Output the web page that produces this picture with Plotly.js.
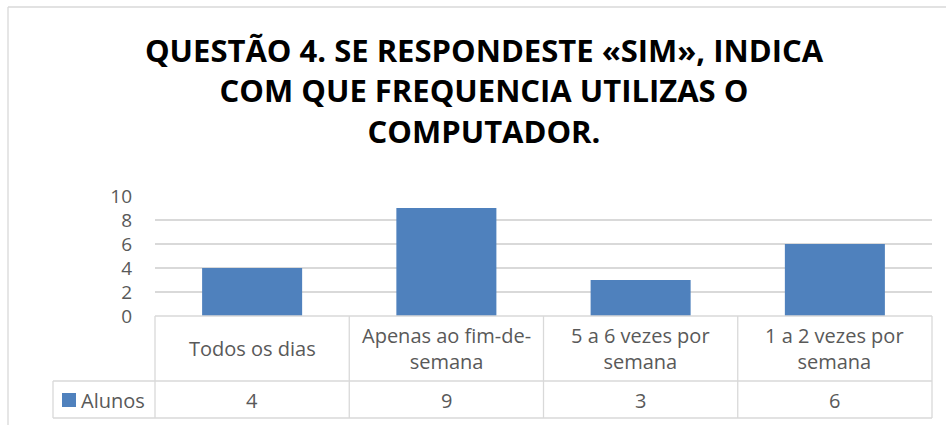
<!DOCTYPE html>
<html>
<head>
<meta charset="utf-8">
<script src="https://cdn.plot.ly/plotly-3.0.1.min.js"></script>
<style>html,body{margin:0;padding:0;background:#fff;}#chart{width:946px;height:425px;}</style>
</head>
<body>
<div id="chart"></div>
<script>
// ---- data ----
const categories = ["Todos os dias", "Apenas ao fim-de-semana", "5 a 6 vezes por semana", "1 a 2 vezes por semana"];
const categoryLabels = ["Todos os dias", "Apenas ao fim-de-<br>semana", "5 a 6 vezes por<br>semana", "1 a 2 vezes por<br>semana"];
const seriesName = "Alunos";
const alunos = [4, 9, 3, 6];
const yTicks = [0, 2, 4, 6, 8, 10];
const titleText = "QUESTÃO 4. SE RESPONDESTE «SIM», INDICA<br>COM QUE FREQUENCIA UTILIZAS O<br>COMPUTADOR.";

// ---- style ----
const W = 946, H = 425;
const M = {l: 155, r: 14, t: 196, b: 109};
const PW = W - M.l - M.r, PH = H - M.t - M.b;
const px = x => (x - M.l) / PW;          // pixel x -> paper
const py = y => (H - M.b - y) / PH;      // pixel y -> paper
const barColor = "#4F81BD";
const lineColor = "#D9D9D9";
const textColor = "#595959";
const font = "Open Sans, Noto Sans, sans-serif";
const tableFontSize = 20;

const rowMid = py(381), rowBot = py(418), legendLeft = px(53);
const shapes = [];
const line = (x0, y0, x1, y1) => shapes.push({type: "line", xref: "paper", yref: "paper", x0, y0, x1, y1, line: {color: lineColor, width: 1.3}});
// table horizontal lines
line(0, 0, 1, 0);
line(legendLeft, rowMid, 1, rowMid);
line(legendLeft, rowBot, 1, rowBot);
// table vertical lines
for (let i = 0; i <= categories.length; i++) line(i / categories.length, 0, i / categories.length, rowBot);
line(legendLeft, rowMid, legendLeft, rowBot);
// chart border (left and top)
line(px(8), py(7), px(8), py(430));
line(px(8), py(7), px(950), py(7));
// legend swatch
shapes.push({type: "rect", xref: "paper", yref: "paper", x0: px(62), x1: px(76), y0: py(393), y1: py(407), fillcolor: barColor, line: {width: 0}});

const annotations = [];
categories.forEach((c, i) => {
  annotations.push({xref: "x", yref: "paper", x: c, y: py(348), text: categoryLabels[i], showarrow: false, xanchor: "center", yanchor: "middle", font: {family: font, size: tableFontSize, color: textColor}});
  annotations.push({xref: "x", yref: "paper", x: c, y: py(400), text: String(alunos[i]), showarrow: false, xanchor: "center", yanchor: "middle", font: {family: font, size: tableFontSize, color: textColor}});
});
annotations.push({xref: "paper", yref: "paper", x: px(79), y: py(400), text: seriesName, showarrow: false, xanchor: "left", yanchor: "middle", font: {family: font, size: tableFontSize, color: textColor}});

const trace = {
  type: "bar", x: categories, y: alunos, name: seriesName,
  marker: {color: barColor}, width: 0.515, hoverinfo: "x+y"
};

const layout = {
  width: W, height: H,
  margin: M,
  paper_bgcolor: "#fff", plot_bgcolor: "#fff",
  showlegend: false,
  title: {text: titleText, x: 484 / W, xref: "container", xanchor: "center", y: 1 - 62 / H, yref: "container", yanchor: "middle",
          font: {family: font, size: 31, color: "#000", weight: "bold"}},
  xaxis: {type: "category", range: [-0.5, categories.length - 0.5], showticklabels: false, showgrid: false, zeroline: false, showline: false, fixedrange: true},
  yaxis: {range: [0, 10], tickvals: yTicks, ticktext: yTicks.map(String), showgrid: true, gridcolor: lineColor, gridwidth: 1.3, zeroline: false, showline: false,
          ticks: "", ticklabelstandoff: 22, tickfont: {family: font, size: 19, color: textColor}, fixedrange: true},
  shapes, annotations
};

Plotly.newPlot("chart", [trace], layout, {displayModeBar: false, staticPlot: true});
</script>
</body>
</html>
